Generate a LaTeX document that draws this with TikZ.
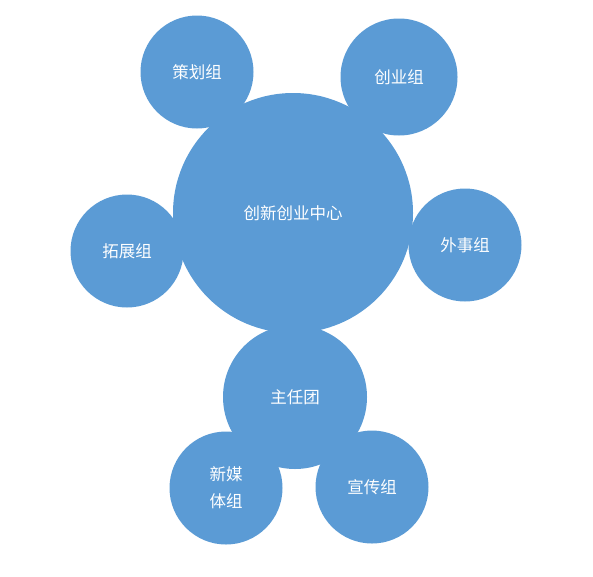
\documentclass[tikz,border=0pt]{standalone}
\usepackage{fontspec}
\newfontfamily\cjkfont{Noto Sans CJK SC}
\def \centreStr {创新创业中心}
\def \planningStr {策划组}
\def \ventureStr {创业组}
\def \expansionStr {拓展组}
\def \externalStr {外事组}
\def \directorsStr {主任团}
\def \newMediaStr {新媒\\体组}
\def \publicityStr {宣传组}
\def \bigCircleDiameter {240pt}
\def \middleCircleDiameter {144pt}
\def \smallCircleDiameter {113pt}

\begin{document}
\begin{tikzpicture}[x=1pt,y=-1pt]


\definecolor{officeblue}{RGB}{91,155,213}

\useasboundingbox (0,0) rectangle (593,576);

\begin{scope}[bubble/.style={circle, fill=officeblue, inner sep=0pt, align=center,
  text=white, font=\cjkfont\fontsize{16.5}{27}\selectfont}]


\node[bubble, minimum size=\smallCircleDiameter] (planning) at (197,72) {\planningStr};
\node[bubble, minimum size=\smallCircleDiameter+4pt] (venture) at (399,77) {\ventureStr};

\node[bubble, minimum size=\smallCircleDiameter] (expansion) at (127,251) {\expansionStr};
\node[bubble, minimum size=\smallCircleDiameter] (external) at (465,245) {\externalStr};

\node[bubble, minimum size=\bigCircleDiameter] (centre) at (293,213) {\centreStr};

\node[bubble, minimum size=\middleCircleDiameter] (directors) at (295,397) {\directorsStr};

\node[bubble, minimum size=\smallCircleDiameter] (newmedia) at (226,488) {\newMediaStr};
\node[bubble, minimum size=\smallCircleDiameter] (publicity) at (372,487) {\publicityStr};


\end{scope}
\end{tikzpicture}
\end{document}
